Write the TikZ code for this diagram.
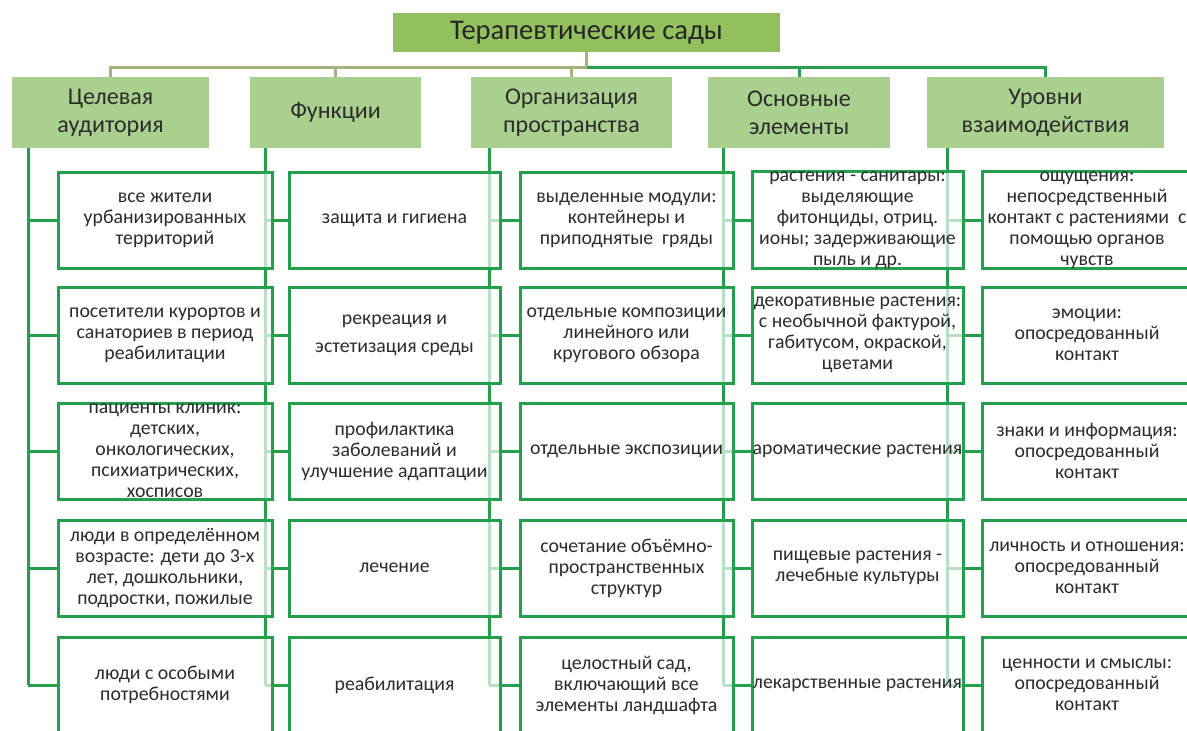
\documentclass[tikz,border=0pt]{standalone}
\usepackage{fontspec}
\setmainfont{Carlito}
\definecolor{gbord}{HTML}{22A04B}
\definecolor{busg}{HTML}{2A9D4F}
\definecolor{busol}{HTML}{A5B47C}
\definecolor{catfill}{HTML}{A9D08E}
\definecolor{titfill}{HTML}{92C05E}
\definecolor{txt}{HTML}{2C2C2C}
\pgfdeclarelayer{background}
\pgfsetlayers{background,main}
\begin{document}
\begin{tikzpicture}[x=1pt,y=-1pt,
  subbox/.style={draw=gbord,line width=3pt,fill=white,fill opacity=0.68,text opacity=1,
    inner sep=0pt,minimum height=96pt,align=center,text=txt,font=\fontsize{19.8}{21}\selectfont},
  ka/.style={subbox,minimum width=214pt},
  kb/.style={subbox,minimum width=211pt},
  kc/.style={subbox,minimum width=213pt},
  kd/.style={subbox,minimum width=211pt},
  ke/.style={subbox,minimum width=210pt},
  catbox/.style={fill=catfill,inner sep=0pt,minimum height=71pt,align=center,text=txt,
    font=\fontsize{24}{28}\selectfont},
  trunk/.style={draw=gbord,line width=3pt},
  olivebus/.style={draw=busol,line width=3pt},
  greenbus/.style={draw=busg,line width=3pt}]
\useasboundingbox (0,0) rectangle (1187,731);
% title and categories
\node[fill=titfill,inner sep=0pt,minimum width=387pt,minimum height=39pt,text=black!85,
  font=\fontsize{28.5}{32}\selectfont] (t) at (586.5,32.5) {Терапевтические сады};
\node[catbox,minimum width=197pt] (c1) at (110.5,112.5) {Целевая\\аудитория};
\node[catbox,minimum width=171pt] (c2) at (335.5,112.5) {Функции};
\node[catbox,minimum width=201pt] (c3) at (571.5,112.5) {Организация\\пространства};
\node[catbox,minimum width=182pt] (c4) at (799,112.5) {Основные\\элементы};
\node[catbox,minimum width=237pt] (c5) at (1045.5,112.5) {Уровни\\взаимодействия};
% column 1
\node[ka] (b11) at (165,220) {все жители\\урбанизированных\\территорий};
\node[ka] (b12) at (165,335) {посетители курортов и\\санаториев в период\\реабилитации};
\node[ka] (b13) at (165,451) {пациенты клиник:\\детских,\\онкологических,\\психиатрических,\\хосписов};
\node[ka] (b14) at (165,568) {люди в определённом\\возрасте: дети до 3-х\\лет, дошкольники,\\подростки, пожилые};
\node[ka] (b15) at (165,685) {люди с особыми\\потребностями};
% column 2
\node[kb] (b21) at (394.5,220) {защита и гигиена};
\node[kb] (b22) at (394.5,335) {рекреация и\\[7pt]эстетизация среды};
\node[kb] (b23) at (394.5,451) {профилактика\\заболеваний и\\улучшение адаптации};
\node[kb] (b24) at (394.5,568) {лечение};
\node[kb] (b25) at (394.5,685) {реабилитация};
% column 3
\node[kc] (b31) at (626.5,220) {выделенные модули:\\контейнеры и\\приподнятые\ \ гряды};
\node[kc] (b32) at (626.5,335) {отдельные композиции\\линейного или\\кругового обзора};
\node[kc] (b33) at (626.5,451) {отдельные экспозиции};
\node[kc] (b34) at (626.5,568) {сочетание объёмно-\\пространственных\\структур};
\node[kc] (b35) at (626.5,685) {целостный сад,\\включающий все\\элементы ландшафта};
% column 4
\node[kd] (b41) at (857.5,220) {растения - санитары:\\выделяющие\\фитонциды, отриц.\\ионы; задерживающие\\пыль и др.};
\node[kd] (b42) at (857.5,335) {декоративные растения:\\с необычной фактурой,\\габитусом, окраской,\\цветами};
\node[kd] (b43) at (857.5,451) {ароматические растения};
\node[kd] (b44) at (857.5,568) {пищевые растения -\\лечебные культуры};
\node[kd] (b45) at (857.5,685) {лекарственные растения};
% column 5
\node[ke] (b51) at (1087,220) {ощущения:\\непосредственный\\контакт с растениями\ \ с\\помощью органов\\чувств};
\node[ke] (b52) at (1087,335) {эмоции:\\опосредованный\\контакт};
\node[ke] (b53) at (1087,451) {знаки и информация:\\опосредованный\\контакт};
\node[ke] (b54) at (1087,568) {личность и отношения:\\опосредованный\\контакт};
\node[ke] (b55) at (1087,685) {ценности и смыслы:\\опосредованный\\контакт};
% trunk x positions
\coordinate (x1) at (28,0);
\coordinate (x2) at (265,0);
\coordinate (x3) at (489,0);
\coordinate (x4) at (723,0);
\coordinate (x5) at (947,0);
\coordinate (bus) at (0,67);
\begin{pgfonlayer}{background}
\fill[white] (0,0) rectangle (1187,731);
% bus
\draw[olivebus] (c1.north) -- (c1.north |- bus) -- (t.south |- bus);
\draw[olivebus] (t.south) -- (t.south |- bus);
\draw[olivebus] (c2.north |- bus) -- (c2.north);
\draw[olivebus] (c3.north |- bus) -- (c3.north);
\draw[greenbus] (t.south |- bus) -- (c5.north |- bus) -- (c5.north);
\draw[greenbus] (c4.north |- bus) -- (c4.north);
% trunks and branches
\foreach \c in {1,...,5}{
  \draw[trunk] (c\c.south -| x\c) -- (b\c5.west -| x\c);
  \foreach \r in {1,...,5}{
    \draw[trunk] (b\c\r.west -| x\c) -- (b\c\r.west);
  }
}
\end{pgfonlayer}
\end{tikzpicture}
\end{document}
